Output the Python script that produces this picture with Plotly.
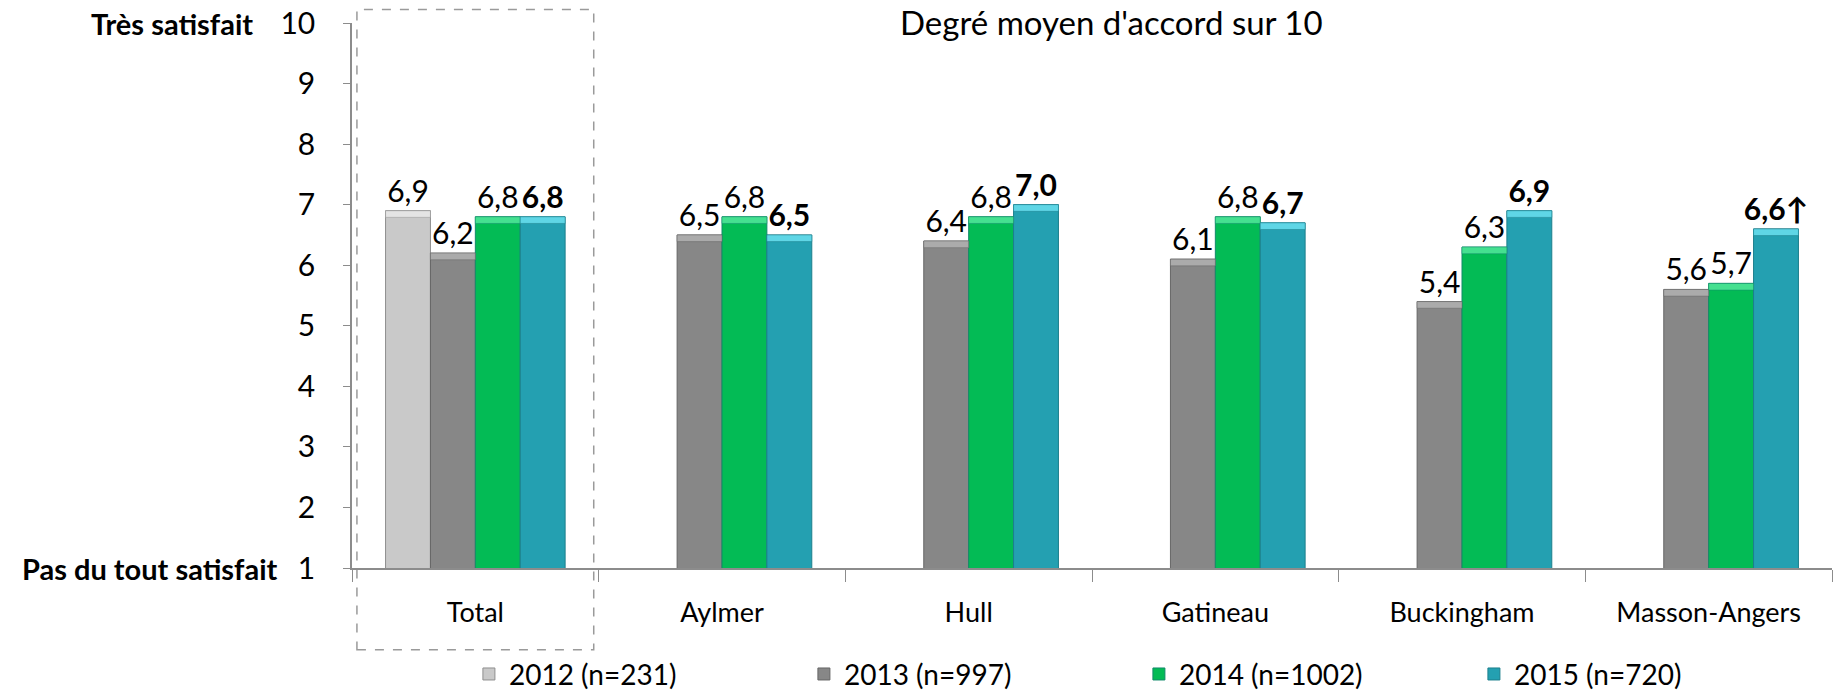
import plotly.graph_objects as go

# Secteurs et résultats (degré moyen d'accord sur 10)
secteurs = ["Total", "Aylmer", "Hull", "Gatineau", "Buckingham", "Masson-Angers"]
annees = ["2012 (n=231)", "2013 (n=997)", "2014 (n=1002)", "2015 (n=720)"]
v2012 = [6.9, None, None, None, None, None]
v2013 = [6.2, 6.5, 6.4, 6.1, 5.4, 5.6]
v2014 = [6.8, 6.8, 6.8, 6.8, 6.3, 5.7]
v2015 = [6.8, 6.5, 7.0, 6.7, 6.9, 6.6]
hausse_2015 = [False, False, False, False, False, True]

y_ticks = list(range(1, 11))

FONT = "Lato, 'Open Sans', sans-serif"

couleurs = ["#C9C9C9", "#878787", "#03BB55", "#24A0B1"]
reflets = ["#E4E4E4", "#ABABAB", "#45E090", "#5FD6E6"]
contours = ["#8E8E8E", "#666666", "#138A6A", "#1C7F8C"]

series = [v2012, v2013, v2014, v2015]


def fmt(v):
    return "" if v is None else f"{v:.1f}".replace(".", ",")


etiquettes = []
for i, vals in enumerate(series):
    txt = []
    for j, v in enumerate(vals):
        t = fmt(v)
        if i == 3:
            t = f"<b>{t}{'↑' if hausse_2015[j] else ''}</b>"
        txt.append(t)
    etiquettes.append(txt)

fig = go.Figure()

# Barres principales
for i, vals in enumerate(series):
    fig.add_trace(go.Bar(
        x=secteurs, y=vals, name=annees[i],
        offsetgroup=str(i),
        marker=dict(color=couleurs[i], line=dict(color=contours[i], width=1)),
        text=etiquettes[i], textposition="outside",
        textfont=dict(family=FONT, size=30, color="#000000"),
        constraintext="none", cliponaxis=False,
    ))

# Reflet biseauté en haut de chaque barre
bevel = 0.11
for i, vals in enumerate(series):
    fig.add_trace(go.Bar(
        x=secteurs,
        y=[None if v is None else bevel for v in vals],
        base=[None if v is None else v - bevel for v in vals],
        offsetgroup=str(i), showlegend=False, hoverinfo="skip",
        marker=dict(color=reflets[i], line=dict(color=contours[i], width=0.5)),
    ))

fig.update_layout(
    width=1835, height=694,
    margin=dict(l=352, r=3, t=23, b=126, autoexpand=False),
    paper_bgcolor="white", plot_bgcolor="white",
    barmode="group", bargap=0.272, bargroupgap=0,
    font=dict(family=FONT, color="#000000"),
    showlegend=True,
    legend=dict(
        orientation="h", x=0.079, xanchor="left", y=-0.195, yanchor="middle",
        entrywidth=290, entrywidthmode="pixels",
        font=dict(family=FONT, size=28, color="#000000"),
        traceorder="normal", borderwidth=0, bgcolor="rgba(0,0,0,0)",
    ),
    xaxis=dict(
        type="category", tickson="boundaries", ticks="outside", ticklen=12,
        tickcolor="#8C8C8C", showline=True, linecolor="#8C8C8C", linewidth=1.5,
        tickfont=dict(family=FONT, size=27, color="#000000"),
        ticklabelstandoff=20, showgrid=False,
    ),
    yaxis=dict(
        range=[1, 10], tickvals=y_ticks, ticks="outside", ticklen=7,
        tickcolor="#8C8C8C", showline=True, linecolor="#8C8C8C", linewidth=1.5,
        tickfont=dict(family=FONT, size=30, color="#000000"),
        ticklabelstandoff=22, showgrid=False, zeroline=False,
    ),
)

# Cadre pointillé autour du total
fig.add_shape(
    type="rect", xref="x", yref="paper",
    x0=-0.48, x1=0.48, y0=-0.15, y1=1.025,
    line=dict(color="#9A9A9A", width=1.5, dash="dash"),
    fillcolor="rgba(0,0,0,0)", layer="below",
)

fig.add_annotation(
    text="Degré moyen d'accord sur 10", xref="paper", yref="paper",
    x=0.5135, y=1.042, xanchor="center", yanchor="top", showarrow=False,
    font=dict(family=FONT, size=33, color="#000000"),
)
fig.add_annotation(
    text="<b>Très satisfait</b>", xref="paper", yref="paper",
    x=-0.0655, y=1.0, xanchor="right", yanchor="middle", showarrow=False,
    font=dict(family=FONT, size=29, color="#000000"),
)
fig.add_annotation(
    text="<b>Pas du tout satisfait</b>", xref="paper", yref="paper",
    x=-0.049, y=0.0, xanchor="right", yanchor="middle", showarrow=False,
    font=dict(family=FONT, size=29, color="#000000"),
)

fig.write_html("out.html")
